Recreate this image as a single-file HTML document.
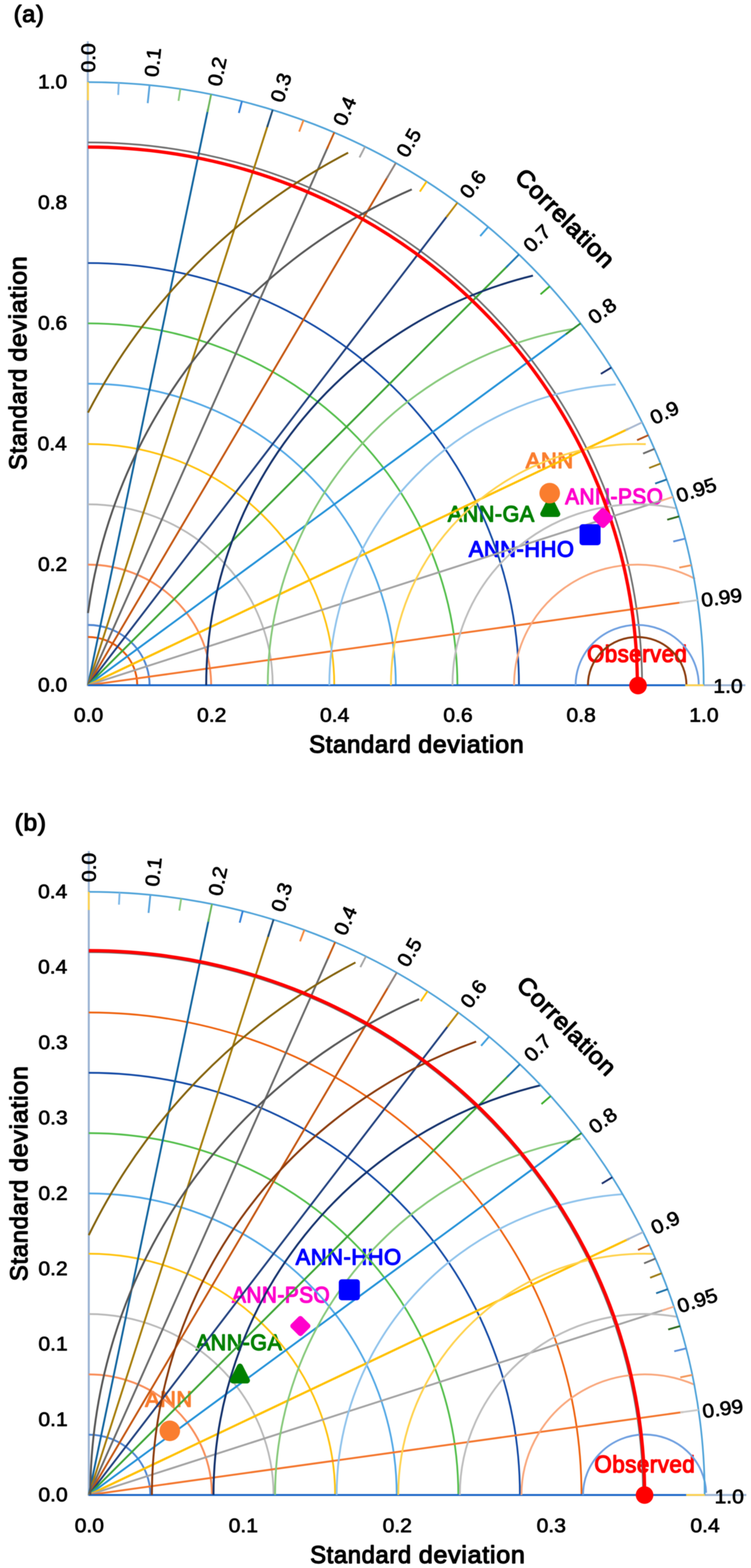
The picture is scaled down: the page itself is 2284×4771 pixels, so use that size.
<!DOCTYPE html>
<html lang="en"><head><meta charset="utf-8"><title>Taylor diagrams</title>
<style>html,body{margin:0;padding:0;background:#fff}svg{display:block;filter:blur(0.9px)}text{font-family:"Liberation Sans",sans-serif;stroke-linejoin:round}.num{font-size:60px;font-weight:normal;stroke-width:2.0px}.lab{font-size:60px;font-weight:normal;stroke-width:3.0px;letter-spacing:1.5px}.tit{font-size:72px;font-weight:normal;stroke-width:3.2px;letter-spacing:2px}</style></head>
<body>
<svg width="2284" height="4771" viewBox="0 0 2284 4771" fill="none">
<rect width="2284" height="4771" fill="#fff"/>
<g>
<text class="lab" transform="translate(1598 1426) scale(1.1094 1.1222) translate(1 -2)" fill="#FA7D2E" stroke="#FA7D2E">ANN</text>
<text class="lab" transform="translate(1360.9 1589.7) scale(1.0905 1.1444) translate(1 -2)" fill="#008000" stroke="#008000">ANN-GA</text>
<text class="lab" transform="translate(1424.6 1696.4) scale(1.1062 1.1444) translate(1 -2)" fill="#0000FF" stroke="#0000FF">ANN-HHO</text>
<text class="lab" transform="translate(1717.9 1536.6) scale(1.0514 1.1444) translate(1 -2)" fill="#FF00CC" stroke="#FF00CC">ANN-PSO</text>
<text class="lab" transform="translate(1786.5 2016.6) scale(1.122 1.1915) translate(-1 -2)" fill="#FF0000" stroke="#FF0000">Observed</text>
<path d="M267 125.7L267 2087.5M264.5 2085L2266.9 2085" stroke="#9CB4D3" stroke-width="6.2"/>
<path d="M417.4 2085A149.8 146.8 0 0 0 267.6 1938.2" stroke="#E8590C" stroke-width="5.8"/>
<path d="M454.9 2085A187.2 183.5 0 0 0 267.6 1901.5" stroke="#4F86D2" stroke-width="5.8"/>
<path d="M642.1 2085A374.5 367 0 0 0 267.6 1718" stroke="#F98D58" stroke-width="5.8"/>
<path d="M829.4 2085A561.8 550.5 0 0 0 267.6 1534.5" stroke="#B9B9B9" stroke-width="5.4"/>
<path d="M1016.6 2085A749 734 0 0 0 267.6 1351" stroke="#FFC20E" stroke-width="5.4"/>
<path d="M1203.8 2085A936.2 917.5 0 0 0 267.6 1167.5" stroke="#52A8E6" stroke-width="5.4"/>
<path d="M1391.1 2085A1123.5 1101.1 0 0 0 267.6 983.9" stroke="#52BE4A" stroke-width="5.4"/>
<path d="M1578.3 2085A1310.8 1284.6 0 0 0 267.6 800.4" stroke="#1249A5" stroke-width="5.4"/>
<path d="M1952.8 2085A1685.2 1651.6 0 0 0 267.6 433.4" stroke="#6E6E6E" stroke-width="5.2"/>
<path d="M267.6 2085L632.7 331.9" stroke="#10649F" stroke-width="5.8"/>
<path d="M267.6 2085L815.3 378.2" stroke="#A67C08" stroke-width="5.8"/>
<path d="M267.6 2085L997.9 445.2" stroke="#696969" stroke-width="5.8"/>
<path d="M267.6 2085L1180.4 535.5" stroke="#C4550F" stroke-width="5.8"/>
<path d="M267.6 2085L1363 653.6" stroke="#1F3F7D" stroke-width="5.8"/>
<path d="M267.6 2085L1545.6 807.2" stroke="#3DA535" stroke-width="5.8"/>
<path d="M267.6 2085L1728.2 1011.5" stroke="#2090D8" stroke-width="5.8"/>
<path d="M267.6 2085L1910.7 1305.1" stroke="#FFC000" stroke-width="6.6"/>
<path d="M267.6 2085L2019.8 1520.6" stroke="#A3A3A3" stroke-width="5.8"/>
<path d="M267.6 2085L2075 1832.6" stroke="#F4762D" stroke-width="5.8"/>
<path d="M267.6 2085L2083.9 2085" stroke="#1C67C8" stroke-width="5.8"/>
<path d="M2125.1 2085A187.2 183.5 0 0 0 1750.6 2085" stroke="#6E9FE0" stroke-width="5.6"/>
<path d="M2113.7 1760.9A374.5 367 0 0 0 1563.4 2085" stroke="#F9A77C" stroke-width="5.6"/>
<path d="M2054.7 1546.5A561.8 550.5 0 0 0 1376.1 2085" stroke="#BDBDBD" stroke-width="5.6"/>
<path d="M1964 1351.4A749 734 0 0 0 1188.9 2085" stroke="#FFD24D" stroke-width="5.6"/>
<path d="M1872.6 1169.7A936.2 917.5 0 0 0 1001.6 2085" stroke="#8FC3EC" stroke-width="5.6"/>
<path d="M1742.8 1000.7A1123.5 1101.1 0 0 0 814.4 2085" stroke="#86C97A" stroke-width="5.6"/>
<path d="M1620.8 838.6A1310.8 1284.6 0 0 0 627.1 2085" stroke="#12306B" stroke-width="5.9"/>
<path d="M2087.7 2085A149.8 146.8 0 0 0 1788.1 2085" stroke="#8A3A0C" stroke-width="5.9"/>
<path d="M1252.4 576.2A1685.2 1651.6 0 0 0 267.6 1865.3" stroke="#555555" stroke-width="5.9"/>
<path d="M1058.8 464.7A1872.5 1835.1 0 0 0 267.6 1255.5" stroke="#83610A" stroke-width="5.9"/>
<path d="M2140.1 2085A1872.5 1835.1 0 0 0 267.6 249.9" stroke="#4FA3D9" stroke-width="5.2"/>
<path d="M267.6 305L267.6 249.9" stroke="#FFD24D" stroke-width="5.6"/>
<path d="M359.4 288.9L361.2 252.2" stroke="#7DB8E8" stroke-width="5.6"/>
<path d="M449.2 313.9L454.9 259.1" stroke="#5AA5DE" stroke-width="5.6"/>
<path d="M542.9 306.9L548.5 270.7" stroke="#8CCB7E" stroke-width="5.6"/>
<path d="M630.9 340.9L642.1 287" stroke="#6DB65B" stroke-width="5.6"/>
<path d="M726.4 343.7L735.7 308.2" stroke="#2F7ED8" stroke-width="5.6"/>
<path d="M812.5 386.9L829.3 334.4" stroke="#1F4E79" stroke-width="5.6"/>
<path d="M909.9 400.4L923 366" stroke="#F58A3C" stroke-width="5.6"/>
<path d="M994.1 453.6L1016.6 403.1" stroke="#C55A11" stroke-width="5.6"/>
<path d="M1093.4 479L1110.2 446.2" stroke="#A5A5A5" stroke-width="5.6"/>
<path d="M1175.8 543.4L1203.8 495.8" stroke="#8C7F7A" stroke-width="5.6"/>
<path d="M1276.9 583L1297.5 552.4" stroke="#FFC000" stroke-width="5.6"/>
<path d="M1357.4 661L1391.1 616.9" stroke="#B8860B" stroke-width="5.6"/>
<path d="M1460.4 718.3L1484.7 690.4" stroke="#3FA0E0" stroke-width="5.6"/>
<path d="M1539 813.8L1578.3 774.5" stroke="#1F77B4" stroke-width="5.6"/>
<path d="M1643.9 895.5L1672 871.2" stroke="#3DAE2B" stroke-width="5.6"/>
<path d="M1720.7 1017L1765.6 983.9" stroke="#2E8B2E" stroke-width="5.6"/>
<path d="M1827.4 1137.6L1859.2 1118.3" stroke="#1A2F6B" stroke-width="5.6"/>
<path d="M1902.3 1309.1L1952.8 1285.1" stroke="#A9B8D0" stroke-width="5.6"/>
<path d="M1937.5 1339.4L1971.6 1324.2" stroke="#B4501A" stroke-width="5.6"/>
<path d="M1955.8 1380.2L1990.3 1365.8" stroke="#6A6A6A" stroke-width="5.6"/>
<path d="M1974.2 1424L2009 1410.5" stroke="#9C7A12" stroke-width="5.6"/>
<path d="M1992.5 1471.4L2027.8 1458.9" stroke="#1D6FA5" stroke-width="5.6"/>
<path d="M2010.9 1523.5L2046.5 1512" stroke="#F9B08A" stroke-width="5.6"/>
<path d="M2029.2 1581.4L2065.2 1571.2" stroke="#2E6B1F" stroke-width="5.6"/>
<path d="M2047.6 1647.8L2083.9 1638.9" stroke="#5B8FD9" stroke-width="5.6"/>
<path d="M2065.9 1727.1L2102.7 1719.8" stroke="#F4975A" stroke-width="5.6"/>
<path d="M2065.8 1833.9L2121.4 1826.1" stroke="#C9C9C9" stroke-width="5.6"/>
<path d="M2083.9 2085L2140.1 2085" stroke="#FFD24D" stroke-width="5.6"/>
<path d="M1938.4 2085A1670.8 1637.5 0 0 0 267.6 447.5" stroke="#FF0000" stroke-width="10"/>
<text class="num" transform="translate(268.7 176.3) rotate(-90) scale(1.0679 0.9911) translate(-41.5 20.5)" fill="#000" stroke="#000">0.0</text>
<text class="num" transform="translate(464.8 189.6) rotate(-84.1) scale(1.0679 0.9911) translate(-41.5 20.5)" fill="#000" stroke="#000">0.1</text>
<text class="num" transform="translate(660.6 217.8) rotate(-78.2) scale(1.0679 0.9911) translate(-41.5 20.5)" fill="#000" stroke="#000">0.2</text>
<text class="num" transform="translate(854.6 266.8) rotate(-72.2) scale(1.0679 0.9911) translate(-41.5 20.5)" fill="#000" stroke="#000">0.3</text>
<text class="num" transform="translate(1048.5 337.8) rotate(-66) scale(1.0679 0.9911) translate(-42 20.5)" fill="#000" stroke="#000">0.4</text>
<text class="num" transform="translate(1243 434.8) rotate(-59.5) scale(1.0679 0.9911) translate(-41.5 20.5)" fill="#000" stroke="#000">0.5</text>
<text class="num" transform="translate(1438 560.8) rotate(-52.6) scale(1.0679 0.9911) translate(-41.5 20.5)" fill="#000" stroke="#000">0.6</text>
<text class="num" transform="translate(1633.3 725.5) rotate(-45) scale(1.0679 0.9911) translate(-41.5 20.5)" fill="#000" stroke="#000">0.7</text>
<text class="num" transform="translate(1831.4 946.4) rotate(-36.3) scale(1.0679 0.9911) translate(-41.5 20.5)" fill="#000" stroke="#000">0.8</text>
<text class="num" transform="translate(2020.8 1255.8) rotate(-25.4) scale(1.0679 0.9911) translate(-41.5 20.5)" fill="#000" stroke="#000">0.9</text>
<text class="num" transform="translate(2117.8 1491.4) rotate(-17.9) scale(1.0679 0.9911) translate(-58.5 20.5)" fill="#000" stroke="#000">0.95</text>
<text class="num" transform="translate(2194.3 1818.4) rotate(-7.9) scale(1.0679 0.9911) translate(-58 20.5)" fill="#000" stroke="#000">0.99</text>
<text class="num" transform="translate(2215 2087.4) scale(1.0679 0.9911) translate(-42.5 20.5)" fill="#000" stroke="#000">1.0</text>
<text class="tit" transform="translate(87.5 48.3) scale(0.9953 0.9958) translate(-46 18.5)" fill="#000" stroke="#000">(a)</text>
<text class="tit" transform="translate(1718.7 662.2) rotate(45) scale(1.0518 1.0089) translate(-185.5 26)" fill="#000" stroke="#000">Correlation</text>
<text class="tit" transform="translate(0 2263.7) translate(0 26.5) scale(1 1.0179)" fill="#000" stroke="#000"><tspan x="940.3" textLength="311.1" lengthAdjust="spacingAndGlyphs">Standard</tspan> <tspan x="1271.9" textLength="323" lengthAdjust="spacingAndGlyphs">deviation</tspan></text>
<text class="tit" transform="translate(53.3 1428.3) rotate(-90) translate(0 26.7) scale(1 1.0268)" fill="#000" stroke="#000"><tspan x="-2" textLength="310.3" lengthAdjust="spacingAndGlyphs">Standard</tspan> <tspan x="328.2" textLength="322.2" lengthAdjust="spacingAndGlyphs">deviation</tspan></text>
<text class="num" transform="translate(203 2084) scale(1.0679 0.9911) translate(-82 20.5)" fill="#000" stroke="#000">0.0</text>
<text class="num" transform="translate(203 1717) scale(1.0679 0.9911) translate(-82 20.5)" fill="#000" stroke="#000">0.2</text>
<text class="num" transform="translate(203 1350) scale(1.0679 0.9911) translate(-83 20.5)" fill="#000" stroke="#000">0.4</text>
<text class="num" transform="translate(203 982.9) scale(1.0679 0.9911) translate(-82 20.5)" fill="#000" stroke="#000">0.6</text>
<text class="num" transform="translate(203 615.9) scale(1.0679 0.9911) translate(-82 20.5)" fill="#000" stroke="#000">0.8</text>
<text class="num" transform="translate(203 248.9) scale(1.0679 0.9911) translate(-82 20.5)" fill="#000" stroke="#000">1.0</text>
<text class="num" transform="translate(269.1 2175.4) scale(1.0679 0.9911) translate(-41.5 20.5)" fill="#000" stroke="#000">0.0</text>
<text class="num" transform="translate(643.6 2175.4) scale(1.0679 0.9911) translate(-41.5 20.5)" fill="#000" stroke="#000">0.2</text>
<text class="num" transform="translate(1018.1 2175.4) scale(1.0679 0.9911) translate(-42 20.5)" fill="#000" stroke="#000">0.4</text>
<text class="num" transform="translate(1392.6 2175.4) scale(1.0679 0.9911) translate(-41.5 20.5)" fill="#000" stroke="#000">0.6</text>
<text class="num" transform="translate(1767.1 2175.4) scale(1.0679 0.9911) translate(-41.5 20.5)" fill="#000" stroke="#000">0.8</text>
<text class="num" transform="translate(2141.6 2175.4) scale(1.0679 0.9911) translate(-42.5 20.5)" fill="#000" stroke="#000">1.0</text>
<path d="M1673.5 1521.5L1695 1564L1652 1564Z" fill="#008000" stroke="#008000" stroke-width="18" stroke-linejoin="round"/>
<circle cx="1671.8" cy="1500.5" r="31.3" fill="#FA7D2E"/>
<rect x="1762.6" y="1595" width="64" height="64" rx="9" fill="#0000FF"/>
<path d="M1833.8 1553.5L1856.3 1576L1833.8 1598.5L1811.3 1576Z" fill="#FF00CC" stroke="#FF00CC" stroke-width="16" stroke-linejoin="round"/>
<circle cx="1940.4" cy="2086" r="26.8" fill="#FF0000"/>
</g>
<g>
<text class="lab" transform="translate(440.5 4282.1) scale(1.0992 1.1222) translate(1 -2)" fill="#FA7D2E" stroke="#FA7D2E">ANN</text>
<text class="lab" transform="translate(594.6 4109.8) scale(1.0856 1.1444) translate(1 -2)" fill="#008000" stroke="#008000">ANN-GA</text>
<text class="lab" transform="translate(704.8 3964.8) scale(1.0511 1.1444) translate(1 -2)" fill="#FF00CC" stroke="#FF00CC">ANN-PSO</text>
<text class="lab" transform="translate(898.1 3850.1) scale(1.1093 1.1444) translate(1 -2)" fill="#0000FF" stroke="#0000FF">ANN-HHO</text>
<text class="lab" transform="translate(1809 4482.6) scale(1.1276 1.1915) translate(-1 -2)" fill="#FF0000" stroke="#FF0000">Observed</text>
<path d="M270 2589.5L270 4551.3M267.5 4548.8L2269.9 4548.8" stroke="#9CB4D3" stroke-width="6.2"/>
<path d="M457.3 4548.8A187.3 183.5 0 0 0 270 4365.3" stroke="#4F86D2" stroke-width="5.8"/>
<path d="M644.6 4548.8A374.6 367 0 0 0 270 4181.8" stroke="#F98D58" stroke-width="5.8"/>
<path d="M831.9 4548.8A561.9 550.5 0 0 0 270 3998.3" stroke="#B9B9B9" stroke-width="5.4"/>
<path d="M1019.2 4548.8A749.2 734 0 0 0 270 3814.8" stroke="#FFC20E" stroke-width="5.4"/>
<path d="M1206.5 4548.8A936.5 917.5 0 0 0 270 3631.2" stroke="#52A8E6" stroke-width="5.4"/>
<path d="M1393.9 4548.8A1123.9 1101.1 0 0 0 270 3447.7" stroke="#52BE4A" stroke-width="5.4"/>
<path d="M1581.2 4548.8A1311.2 1284.6 0 0 0 270 3264.2" stroke="#1249A5" stroke-width="5.4"/>
<path d="M1768.5 4548.8A1498.5 1468.1 0 0 0 270 3080.7" stroke="#EE620E" stroke-width="5.4"/>
<path d="M1955.8 4548.8A1685.8 1651.6 0 0 0 270 2897.2" stroke="#6E6E6E" stroke-width="5.2"/>
<path d="M270 4548.8L635.3 2795.7" stroke="#10649F" stroke-width="5.8"/>
<path d="M270 4548.8L817.9 2842" stroke="#A67C08" stroke-width="5.8"/>
<path d="M270 4548.8L1000.5 2909" stroke="#696969" stroke-width="5.8"/>
<path d="M270 4548.8L1183.1 2999.3" stroke="#C4550F" stroke-width="5.8"/>
<path d="M270 4548.8L1365.8 3117.4" stroke="#1F3F7D" stroke-width="5.8"/>
<path d="M270 4548.8L1548.4 3271" stroke="#3DA535" stroke-width="5.8"/>
<path d="M270 4548.8L1731 3475.3" stroke="#2090D8" stroke-width="5.8"/>
<path d="M270 4548.8L1913.6 3768.9" stroke="#FFC000" stroke-width="6.6"/>
<path d="M270 4548.8L2022.8 3984.4" stroke="#A3A3A3" stroke-width="5.8"/>
<path d="M270 4548.8L2078 4296.4" stroke="#F4762D" stroke-width="5.8"/>
<path d="M270 4548.8L2086.9 4548.8" stroke="#1C67C8" stroke-width="5.8"/>
<path d="M2147.7 4542.4A187.3 183.5 0 0 0 1773.2 4548.8" stroke="#6E9FE0" stroke-width="5.6"/>
<path d="M2112.8 4213.5A374.6 367 0 0 0 1585.9 4548.8" stroke="#F9A77C" stroke-width="5.6"/>
<path d="M2058.1 4006.6A561.9 550.5 0 0 0 1398.5 4548.8" stroke="#BDBDBD" stroke-width="5.6"/>
<path d="M1986.6 3815.2A749.2 734 0 0 0 1211.2 4548.8" stroke="#FFD24D" stroke-width="5.6"/>
<path d="M1895.1 3633.5A936.5 917.5 0 0 0 1023.9 4548.8" stroke="#8FC3EC" stroke-width="5.6"/>
<path d="M1765.3 3464.5A1123.9 1101.1 0 0 0 836.6 4548.8" stroke="#86C97A" stroke-width="5.6"/>
<path d="M1643.3 3302.4A1311.2 1284.6 0 0 0 649.3 4548.8" stroke="#12306B" stroke-width="5.9"/>
<path d="M1448 3169.3A1498.5 1468.1 0 0 0 462 4548.8" stroke="#8A3A0C" stroke-width="5.9"/>
<path d="M1274.8 3040A1685.8 1651.6 0 0 0 274.7 4548.8" stroke="#555555" stroke-width="5.9"/>
<path d="M1081.1 2928.5A1873.1 1835.1 0 0 0 270 3758.4" stroke="#83610A" stroke-width="5.9"/>
<path d="M2143.1 4548.8A1873.1 1835.1 0 0 0 270 2713.7" stroke="#4FA3D9" stroke-width="5.2"/>
<path d="M270 2768.8L270 2713.7" stroke="#FFD24D" stroke-width="5.6"/>
<path d="M361.8 2752.7L363.7 2716" stroke="#7DB8E8" stroke-width="5.6"/>
<path d="M451.7 2777.7L457.3 2722.9" stroke="#5AA5DE" stroke-width="5.6"/>
<path d="M545.3 2770.7L551 2734.5" stroke="#8CCB7E" stroke-width="5.6"/>
<path d="M633.4 2804.7L644.6 2750.8" stroke="#6DB65B" stroke-width="5.6"/>
<path d="M728.9 2807.5L738.3 2772" stroke="#2F7ED8" stroke-width="5.6"/>
<path d="M815.1 2850.7L831.9 2798.2" stroke="#1F4E79" stroke-width="5.6"/>
<path d="M912.5 2864.2L925.6 2829.8" stroke="#F58A3C" stroke-width="5.6"/>
<path d="M996.8 2917.4L1019.2 2866.9" stroke="#C55A11" stroke-width="5.6"/>
<path d="M1096 2942.8L1112.9 2910" stroke="#A5A5A5" stroke-width="5.6"/>
<path d="M1178.5 3007.2L1206.5 2959.6" stroke="#8C7F7A" stroke-width="5.6"/>
<path d="M1279.6 3046.8L1300.2 3016.2" stroke="#FFC000" stroke-width="5.6"/>
<path d="M1360.1 3124.8L1393.9 3080.7" stroke="#B8860B" stroke-width="5.6"/>
<path d="M1463.2 3182.1L1487.5 3154.2" stroke="#3FA0E0" stroke-width="5.6"/>
<path d="M1541.8 3277.6L1581.2 3238.3" stroke="#1F77B4" stroke-width="5.6"/>
<path d="M1646.7 3359.3L1674.8 3335" stroke="#3DAE2B" stroke-width="5.6"/>
<path d="M1723.5 3480.8L1768.5 3447.7" stroke="#2E8B2E" stroke-width="5.6"/>
<path d="M1830.3 3601.4L1862.1 3582.1" stroke="#1A2F6B" stroke-width="5.6"/>
<path d="M1905.2 3772.9L1955.8 3748.9" stroke="#A9B8D0" stroke-width="5.6"/>
<path d="M1940.4 3803.2L1974.5 3788" stroke="#B4501A" stroke-width="5.6"/>
<path d="M1958.8 3844L1993.3 3829.6" stroke="#6A6A6A" stroke-width="5.6"/>
<path d="M1977.1 3887.8L2012 3874.3" stroke="#9C7A12" stroke-width="5.6"/>
<path d="M1995.5 3935.2L2030.7 3922.7" stroke="#1D6FA5" stroke-width="5.6"/>
<path d="M2013.9 3987.3L2049.4 3975.8" stroke="#F9B08A" stroke-width="5.6"/>
<path d="M2032.2 4045.2L2068.2 4035" stroke="#2E6B1F" stroke-width="5.6"/>
<path d="M2050.6 4111.6L2086.9 4102.7" stroke="#5B8FD9" stroke-width="5.6"/>
<path d="M2068.9 4190.9L2105.6 4183.6" stroke="#F4975A" stroke-width="5.6"/>
<path d="M2068.7 4297.7L2124.4 4289.9" stroke="#C9C9C9" stroke-width="5.6"/>
<path d="M2086.9 4548.8L2143.1 4548.8" stroke="#FFD24D" stroke-width="5.6"/>
<path d="M1960.5 4548.8A1690.5 1656.2 0 0 0 270 2892.6" stroke="#FF0000" stroke-width="10"/>
<text class="num" transform="translate(270.7 2639.6) rotate(-90) scale(1.0679 0.9911) translate(-41.5 20.5)" fill="#000" stroke="#000">0.0</text>
<text class="num" transform="translate(466.8 2652.9) rotate(-84.1) scale(1.0679 0.9911) translate(-41.5 20.5)" fill="#000" stroke="#000">0.1</text>
<text class="num" transform="translate(662.6 2681.1) rotate(-78.2) scale(1.0679 0.9911) translate(-41.5 20.5)" fill="#000" stroke="#000">0.2</text>
<text class="num" transform="translate(856.6 2730.1) rotate(-72.2) scale(1.0679 0.9911) translate(-41.5 20.5)" fill="#000" stroke="#000">0.3</text>
<text class="num" transform="translate(1050.5 2801.1) rotate(-66) scale(1.0679 0.9911) translate(-42 20.5)" fill="#000" stroke="#000">0.4</text>
<text class="num" transform="translate(1245 2898.1) rotate(-59.5) scale(1.0679 0.9911) translate(-41.5 20.5)" fill="#000" stroke="#000">0.5</text>
<text class="num" transform="translate(1440 3024.1) rotate(-52.6) scale(1.0679 0.9911) translate(-41.5 20.5)" fill="#000" stroke="#000">0.6</text>
<text class="num" transform="translate(1635.3 3188.8) rotate(-45) scale(1.0679 0.9911) translate(-41.5 20.5)" fill="#000" stroke="#000">0.7</text>
<text class="num" transform="translate(1833.4 3409.7) rotate(-36.3) scale(1.0679 0.9911) translate(-41.5 20.5)" fill="#000" stroke="#000">0.8</text>
<text class="num" transform="translate(2023.3 3720.4) rotate(-25.4) scale(1.0679 0.9911) translate(-41.5 20.5)" fill="#000" stroke="#000">0.9</text>
<text class="num" transform="translate(2120.8 3957.3) rotate(-17.8) scale(1.0679 0.9911) translate(-58.5 20.5)" fill="#000" stroke="#000">0.95</text>
<text class="num" transform="translate(2197.7 4286.3) rotate(-7.9) scale(1.0679 0.9911) translate(-58 20.5)" fill="#000" stroke="#000">0.99</text>
<text class="num" transform="translate(2218.6 4554) scale(1.0679 0.9911) translate(-42.5 20.5)" fill="#000" stroke="#000">1.0</text>
<text class="tit" transform="translate(92.3 2508.7) scale(1.0337 0.9958) translate(-46 18.5)" fill="#000" stroke="#000">(b)</text>
<text class="tit" transform="translate(1723.7 3120.2) rotate(45) scale(1.0518 1.0089) translate(-185.5 26)" fill="#000" stroke="#000">Correlation</text>
<text class="tit" transform="translate(0 4729.6) translate(0 26.5) scale(1 1.0179)" fill="#000" stroke="#000"><tspan x="943.5" textLength="308.9" lengthAdjust="spacingAndGlyphs">Standard</tspan> <tspan x="1273.7" textLength="324.6" lengthAdjust="spacingAndGlyphs">deviation</tspan></text>
<text class="tit" transform="translate(56.2 3895.9) rotate(-90) translate(0 26.7) scale(1 1.0268)" fill="#000" stroke="#000"><tspan x="-2" textLength="310.3" lengthAdjust="spacingAndGlyphs">Standard</tspan> <tspan x="330.2" textLength="324" lengthAdjust="spacingAndGlyphs">deviation</tspan></text>
<text class="num" transform="translate(204.3 4547.8) scale(1.0679 0.9911) translate(-82 20.5)" fill="#000" stroke="#000">0.0</text>
<text class="num" transform="translate(204.3 4318.4) scale(1.0679 0.9911) translate(-82 20.5)" fill="#000" stroke="#000">0.1</text>
<text class="num" transform="translate(204.3 4089) scale(1.0679 0.9911) translate(-82 20.5)" fill="#000" stroke="#000">0.1</text>
<text class="num" transform="translate(204.3 3859.6) scale(1.0679 0.9911) translate(-82 20.5)" fill="#000" stroke="#000">0.2</text>
<text class="num" transform="translate(204.3 3630.2) scale(1.0679 0.9911) translate(-82 20.5)" fill="#000" stroke="#000">0.2</text>
<text class="num" transform="translate(204.3 3400.9) scale(1.0679 0.9911) translate(-82 20.5)" fill="#000" stroke="#000">0.3</text>
<text class="num" transform="translate(204.3 3171.5) scale(1.0679 0.9911) translate(-82 20.5)" fill="#000" stroke="#000">0.3</text>
<text class="num" transform="translate(204.3 2942.1) scale(1.0679 0.9911) translate(-83 20.5)" fill="#000" stroke="#000">0.4</text>
<text class="num" transform="translate(204.3 2712.7) scale(1.0679 0.9911) translate(-83 20.5)" fill="#000" stroke="#000">0.4</text>
<text class="num" transform="translate(271.5 4641.8) scale(1.0679 0.9911) translate(-41.5 20.5)" fill="#000" stroke="#000">0.0</text>
<text class="num" transform="translate(739.8 4641.8) scale(1.0679 0.9911) translate(-41.5 20.5)" fill="#000" stroke="#000">0.1</text>
<text class="num" transform="translate(1208 4641.8) scale(1.0679 0.9911) translate(-41.5 20.5)" fill="#000" stroke="#000">0.2</text>
<text class="num" transform="translate(1676.3 4641.8) scale(1.0679 0.9911) translate(-41.5 20.5)" fill="#000" stroke="#000">0.3</text>
<text class="num" transform="translate(2144.6 4641.8) scale(1.0679 0.9911) translate(-42 20.5)" fill="#000" stroke="#000">0.4</text>
<circle cx="516.4" cy="4353.6" r="31.3" fill="#FA7D2E"/>
<path d="M729.7 4158L751.2 4200.5L708.2 4200.5Z" fill="#008000" stroke="#008000" stroke-width="18" stroke-linejoin="round"/>
<path d="M913.5 4012.2L936 4034.7L913.5 4057.2L891 4034.7Z" fill="#FF00CC" stroke="#FF00CC" stroke-width="16" stroke-linejoin="round"/>
<rect x="1030.4" y="3892.5" width="64" height="64" rx="9" fill="#0000FF"/>
<circle cx="1960.3" cy="4549" r="26.8" fill="#FF0000"/>
</g>
</svg>
</body></html>
